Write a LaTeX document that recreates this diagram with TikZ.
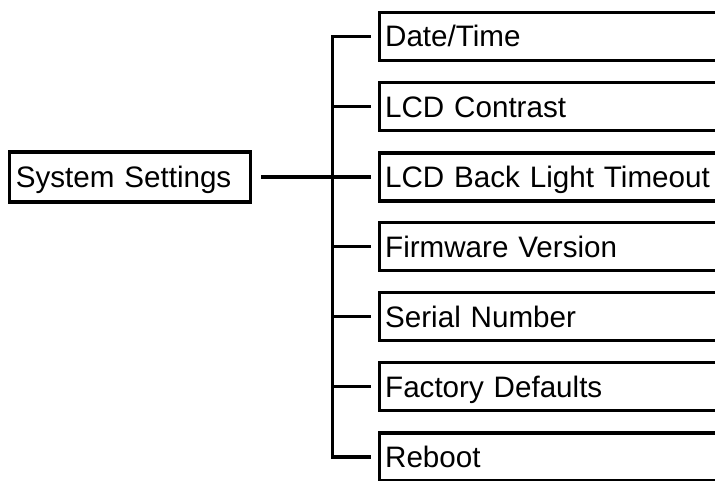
\documentclass[tikz,border=0pt]{standalone}
\usepackage{fontspec}
\setmainfont{Liberation Sans}
\begin{document}
\begin{tikzpicture}[x=0.75pt,y=-0.75pt,
  box/.style={draw, line width=2.5pt, rectangle, inner ysep=0pt, inner xsep=4.5pt,
    align=left, text height=15.9pt, text depth=0pt,
    font=\fontsize{22.2pt}{27pt}\selectfont},
  item/.style={box, anchor=west, text width=255pt, minimum height=36pt},
  conn/.style={line width=2.5pt}]
\useasboundingbox (0,0) rectangle (715,480);
\clip (0,0) rectangle (715,480);
\node[box, text width=171.3pt, minimum height=37.5pt] (ss) at (130,177) {System Settings};
\node[item] (b1) at (377.5,36.3) {Date/Time};
\node[item] (b2) at (377.5,106.4) {LCD Contrast};
\node[item] (b3) at (377.5,177) {LCD Back Light Timeout};
\node[item] (b4) at (377.5,246.6) {Firmware Version};
\node[item] (b5) at (377.5,316.7) {Serial Number};
\node[item] (b6) at (377.5,386.8) {Factory Defaults};
\node[item] (b7) at (377.5,456.9) {Reboot};
\coordinate (spine) at (332.8,177);
\draw[conn] ([xshift=-4.9pt]b1.west) -| (spine) |- ([xshift=-4.9pt]b7.west);
\draw[conn] (spine |- b2.west) -- ([xshift=-4.9pt]b2.west);
\draw[conn] (spine |- b4.west) -- ([xshift=-4.9pt]b4.west);
\draw[conn] (spine |- b5.west) -- ([xshift=-4.9pt]b5.west);
\draw[conn] (spine |- b6.west) -- ([xshift=-4.9pt]b6.west);
\draw[conn] ([xshift=7pt]ss.east) -- ([xshift=-4.9pt]ss.east -| b3.west);
\end{tikzpicture}
\end{document}
